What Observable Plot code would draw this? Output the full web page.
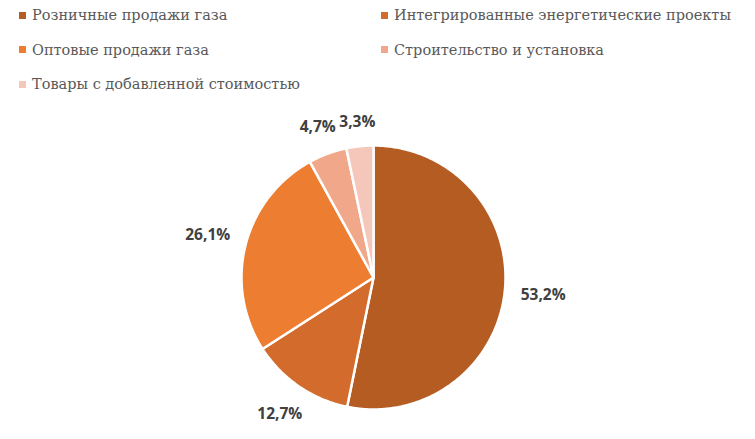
<!DOCTYPE html>
<html><head><meta charset="utf-8">
<script src="https://cdn.jsdelivr.net/npm/d3@7"></script>
<script src="https://cdn.jsdelivr.net/npm/@observablehq/plot@0.6"></script>
<style>
html,body{margin:0;padding:0;background:#fff;width:755px;height:439px;overflow:hidden}
#legend{position:relative;height:100px;font-family:"DejaVu Serif",serif;font-size:14.5px;color:#595959}
.item{position:absolute;display:flex;align-items:center;white-space:nowrap}
.sw{width:7px;height:7px;margin-right:6px}
</style></head>
<body>
<div id="legend"></div>
<div id="chart"></div>
<script>
const categories = ["Розничные продажи газа","Интегрированные энергетические проекты","Оптовые продажи газа","Строительство и установка","Товары с добавленной стоимостью"];
const values = [53.2, 12.7, 26.1, 4.7, 3.3];
const labels = ["53,2%","12,7%","26,1%","4,7%","3,3%"];
const colors = ["#B45C22","#D26B2B","#ED7D31","#F1A78A","#F5C7BB"];

// legend (2 columns, row-major)
const leg = document.getElementById("legend");
categories.forEach((c,i)=>{
  const d = document.createElement("div");
  d.className="item";
  const col = i%2, row = Math.floor(i/2);
  d.style.left = (col===0?19:381)+"px";
  d.style.top = (15 + row*34.5 - 10)+"px";
  d.style.height="20px";
  d.innerHTML = `<span class="sw" style="background:${colors[i]}"></span><span>${c}</span>`;
  leg.appendChild(d);
});

const W = 755, H = 339, cx = 373, cy = 177, R = 132;
const pie = d3.pie().sort(null).value(d=>d.value);
const arcs = pie(categories.map((c,i)=>({cat:c, value:values[i], label:labels[i]})));
const pts = [];
arcs.forEach(a=>{
  pts.push({cat:a.data.cat, x:0, y:0});
  const n = Math.max(4, Math.ceil((a.endAngle-a.startAngle)/0.01));
  for(let k=0;k<=n;k++){
    const t = a.startAngle + (a.endAngle-a.startAngle)*k/n;
    pts.push({cat:a.data.cat, x:Math.sin(t), y:Math.cos(t)});
  }
  pts.push({cat:a.data.cat, x:0, y:0});
});
// place label box just outside circle (nearest point of box at R+gap)
const gap = 14, hh = 9;
const lab = arcs.map(a=>{
  const t=(a.startAngle+a.endAngle)/2;
  const ux=Math.sin(t), uy=Math.cos(t);
  const hw = a.data.label.length*4.7;
  let d = R;
  for(let k=0;k<400;k++){
    const px=ux*d, py=uy*d;
    const nx = Math.sign(px)*Math.max(0,Math.abs(px)-hw);
    const ny = Math.sign(py)*Math.max(0,Math.abs(py)-hh);
    if (Math.hypot(nx,ny) >= R+gap) break;
    d += 0.5;
  }
  return {label:a.data.label, x:ux*d/R, y:uy*d/R};
});

const chart = Plot.plot({
  width: W, height: H, margin: 0,
  x: {domain:[-cx/R,(W-cx)/R], range:[0,W], axis:null},
  y: {domain:[-(H-cy)/R, cy/R], range:[H,0], axis:null},
  color: {domain: categories, range: colors},
  marks: [
    Plot.line(pts, {x:"x", y:"y", z:"cat", fill:"cat", stroke:"white", strokeWidth:2.5, strokeLinejoin:"round"}),
    Plot.text(lab, {x:"x", y:"y", text:"label", fontSize:15.5, fontWeight:"bold", fill:"#404040", fontFamily:"Open Sans"})
  ]
});
document.getElementById("chart").appendChild(chart);
</script>
</body></html>
